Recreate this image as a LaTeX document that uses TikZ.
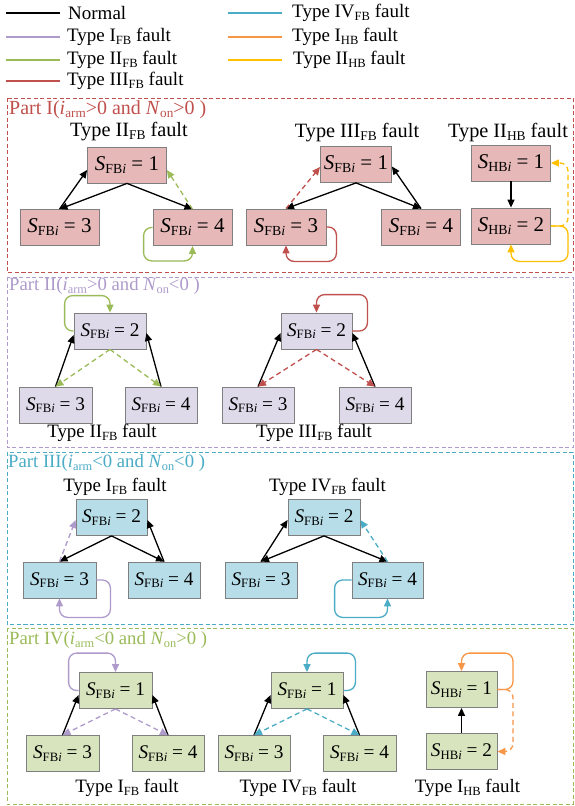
\documentclass[tikz,border=0pt]{standalone}
\usepackage{fontspec}
\setmainfont{Liberation Serif}
\usetikzlibrary{arrows.meta}
\definecolor{redc}{HTML}{C0504D}
\definecolor{purc}{HTML}{AE9BCB}
\definecolor{grnc}{HTML}{9BBB59}
\definecolor{cyac}{HTML}{4BACC6}
\definecolor{orac}{HTML}{F79646}
\definecolor{yelc}{HTML}{FFC000}
\definecolor{fillI}{HTML}{E6B9B8}
\definecolor{fillII}{HTML}{DFDAEA}
\definecolor{fillIII}{HTML}{B7DDE8}
\definecolor{fillIV}{HTML}{D7E4BD}
\definecolor{bordc}{HTML}{7F7F7F}
\makeatletter
\newcommand{\lo}[1]{{\@tempdima=\f@size pt\@tempdima=0.66\@tempdima
  \raisebox{-0.3ex}{\fontsize{\strip@pt\@tempdima}{10}\selectfont #1}}}
\makeatother
\newcommand{\sfb}[1]{\textit{S}\lo{FB\textit{i}} = #1}
\newcommand{\shb}[1]{\textit{S}\lo{HB\textit{i}} = #1}
\tikzset{
  stbox/.style={draw=bordc, line width=0.8pt, minimum height=36pt, inner sep=0pt,
    font=\fontsize{19.3}{22}\selectfont},
  sI/.style={stbox, fill=fillI, font=\fontsize{21}{24}\selectfont},
  sII/.style={stbox, fill=fillII},
  sIII/.style={stbox, fill=fillIII},
  sIV/.style={stbox, fill=fillIV},
  arr/.style={-{Triangle[length=8pt,width=7pt]}, line width=1.3pt},
  dsh/.style={dash pattern=on 5pt off 3.5pt},
  selfarc/.style={arr, rounded corners=8pt},
  partbox/.style={line width=1pt, dash pattern=on 4pt off 2.5pt},
  lbl/.style={font=\fontsize{18.9}{22}\selectfont, inner sep=0pt},
  lblA/.style={font=\fontsize{20.3}{23}\selectfont, inner sep=0pt},
  plbl/.style={font=\fontsize{18.7}{22}\selectfont, inner sep=0pt, anchor=west},
  plblA/.style={font=\fontsize{20}{23}\selectfont, inner sep=0pt, anchor=west},
  leg/.style={font=\fontsize{19}{22}\selectfont, inner sep=0pt, anchor=west},
  legline/.style={line width=1.6pt},
}
\begin{document}
\begin{tikzpicture}[x=1pt,y=-1pt]
\useasboundingbox (0,0) rectangle (575,806);
\fill[white] (0,0) rectangle (575,806);

% ---------- legend ----------
\draw[legline, black] (6,13) -- (60,13);
\node[leg] (l1) at (68,13) {Normal};
\draw[legline, purc] (6,37) -- (60,37);
\node[leg] (l2) at (67,37) {Type I\lo{FB} fault};
\draw[legline, grnc] (6,60) -- (60,60);
\node[leg] (l3) at (67,60) {Type II\lo{FB} fault};
\draw[legline, redc] (6,81) -- (60,81);
\node[leg] (l4) at (67,81) {Type III\lo{FB} fault};
\draw[legline, cyac] (228,13) -- (282,13);
\node[leg] (l5) at (292,13) {Type IV\lo{FB} fault};
\draw[legline, orac] (228,37) -- (282,37);
\node[leg] (l6) at (292,37) {Type I\lo{HB} fault};
\draw[legline, yelc] (228,60) -- (282,60);
\node[leg] (l7) at (293,60) {Type II\lo{HB} fault};

% ---------- part boxes ----------
\draw[partbox, draw=redc] (7,98) rectangle (573,272);
\draw[partbox, draw=purc] (7,277) rectangle (573,447);
\draw[partbox, draw=cyac] (7,452) rectangle (573,624);
\draw[partbox, draw=grnc] (7,628) rectangle (573,804);

\node[plblA, text=redc] (p1) at (9,110) {Part I(\textit{i}\lo{arm}>0 and \textit{N}\lo{on}>0 )};
\node[plbl, text=purc] (p2) at (9,286) {Part II(\textit{i}\lo{arm}>0 and \textit{N}\lo{on}<0 )};
\node[plbl, text=cyac] (p3) at (8,463) {Part III(\textit{i}\lo{arm}<0 and \textit{N}\lo{on}<0 )};
\node[plbl, text=grnc] (p4) at (9,640) {Part IV(\textit{i}\lo{arm}<0 and \textit{N}\lo{on}>0 )};

% ---------- Part I ----------
\node[lblA] (t1) at (129,132) {Type II\lo{FB} fault};
\node[sI, minimum width=79pt] (a1) at (127,165) {\sfb{1}};
\node[sI, minimum width=79pt] (a3) at (59.5,227.5) {\sfb{3}};
\node[sI, minimum width=79pt] (a4) at (192.5,227.5) {\sfb{4}};
\draw[arr] (a1.south) -- (a3.north);
\draw[arr] (a3.north) -- ([yshift=-5pt]a1.west);
\draw[arr] (a1.south) -- (a4.north);
\draw[arr, dsh, grnc] (a4.north) -- ([yshift=-5pt]a1.east);
\draw[selfarc, grnc] (a4.west) -- ([xshift=-9pt]a4.west) |- ([yshift=-15pt]a4.south) -- (a4.south);

\node[lblA] (t2) at (357,133) {Type III\lo{FB} fault};
\node[sI, minimum width=71pt] (b1) at (356,164.5) {\sfb{1}};
\node[sI, minimum width=80pt] (b3) at (286,227) {\sfb{3}};
\node[sI, minimum width=79pt] (b4) at (421,227) {\sfb{4}};
\draw[arr] (b1.south) -- (b3.north);
\draw[arr, dsh, redc] (b3.north) -- ([yshift=-2.5pt]b1.west);
\draw[arr] (b1.south) -- (b4.north);
\draw[arr] (b4.north) -- ([yshift=-2pt]b1.east);
\draw[selfarc, redc] (b3.east) -- ([xshift=10pt]b3.east) |- ([yshift=-16pt]b3.south) -- (b3.south);

\node[lblA] (t3) at (508,133) {Type II\lo{HB} fault};
\node[sI, minimum width=79pt] (c1) at (511,163) {\shb{1}};
\node[sI, minimum width=79pt] (c2) at (511,226) {\shb{2}};
\draw[arr] (c1.south) -- (c2.north);
\coordinate (cj) at (568,226);
\draw[selfarc, yelc] (c2.east) -- (cj) |- ([yshift=-17pt]c2.south) -- (c2.south);
\draw[selfarc, dsh, yelc] (c2.east) -- (cj) |- (c1.east);

% ---------- Part II ----------
\node[sII, minimum width=72pt] (d2) at (110,331) {\sfb{2}};
\node[sII, minimum width=73pt] (d3) at (55.5,405) {\sfb{3}};
\node[sII, minimum width=72pt] (d4) at (161,405) {\sfb{4}};
\draw[selfarc, grnc] (d2.west) -- ([xshift=-9pt]d2.west) |- ([yshift=17pt]d2.north) -- (d2.north);
\draw[arr] (d3.north) -- ([yshift=-4pt]d2.west);
\draw[arr] (d4.north) -- ([yshift=-2pt]d2.east);
\draw[arr, dsh, grnc] (d2.south) -- (d3.north);
\draw[arr, dsh, grnc] (d2.south) -- (d4.north);
\node[lbl] (t4) at (102,433) {Type II\lo{FB} fault};

\node[sII, minimum width=71pt] (e2) at (316.5,331) {\sfb{2}};
\node[sII, minimum width=72pt] (e3) at (258,405) {\sfb{3}};
\node[sII, minimum width=72pt] (e4) at (375,405) {\sfb{4}};
\draw[selfarc, redc] (e2.east) -- ([xshift=15pt]e2.east) |- ([yshift=18pt]e2.north) -- (e2.north);
\draw[arr] (e3.north) -- ([yshift=-2pt]e2.west);
\draw[arr] (e4.north) -- ([yshift=-2pt]e2.east);
\draw[arr, dsh, redc] (e2.south) -- (e3.north);
\draw[arr, dsh, redc] (e2.south) -- (e4.north);
\node[lbl] (t5) at (314,433) {Type III\lo{FB} fault};

% ---------- Part III ----------
\node[lbl] (t6) at (115,487) {Type I\lo{FB} fault};
\node[sIII, minimum width=71pt] (f2) at (111.5,517.5) {\sfb{2}};
\node[sIII, minimum width=73pt] (f3) at (59.5,580) {\sfb{3}};
\node[sIII, minimum width=72pt] (f4) at (164,580) {\sfb{4}};
\draw[arr] (f2.south) -- (f3.north);
\draw[arr] (f2.south) -- (f4.north);
\draw[arr] (f4.north) -- ([yshift=-2.5pt]f2.east);
\draw[arr, dsh, purc] (f3.north) -- ([yshift=-2.5pt]f2.west);
\draw[selfarc, purc] (f3.east) -- ([xshift=14pt]f3.east) |- ([yshift=-19pt]f3.south) -- (f3.south);

\node[lbl] (t7) at (327.5,487) {Type IV\lo{FB} fault};
\node[sIII, minimum width=72pt] (g2) at (324,517.5) {\sfb{2}};
\node[sIII, minimum width=72pt] (g3) at (261,580) {\sfb{3}};
\node[sIII, minimum width=71pt] (g4) at (387.5,580) {\sfb{4}};
\draw[arr] (g2.south) -- (g3.north);
\draw[arr] (g3.north) -- ([yshift=-2.5pt]g2.west);
\draw[arr] (g2.south) -- (g4.north);
\draw[arr, dsh, cyac] (g4.north) -- ([yshift=-2.5pt]g2.east);
\draw[selfarc, cyac] (g4.west) -- ([xshift=-17pt]g4.west) |- ([yshift=-19pt]g4.south) -- (g4.south);

% ---------- Part IV ----------
\node[sIV, minimum width=73pt] (h1) at (115.5,690.5) {\sfb{1}};
\node[sIV, minimum width=73pt] (h3) at (62.5,753.5) {\sfb{3}};
\node[sIV, minimum width=72pt] (h4) at (168,753.5) {\sfb{4}};
\draw[selfarc, purc] (h1.west) -- ([xshift=-10pt]h1.west) |- ([yshift=19pt]h1.north) -- (h1.north);
\draw[arr] (h3.north) -- ([yshift=-4.5pt]h1.west);
\draw[arr] (h4.north) -- ([yshift=-4.5pt]h1.east);
\draw[arr, dsh, purc] (h1.south) -- (h3.north);
\draw[arr, dsh, purc] (h1.south) -- (h4.north);
\node[lbl] (t8) at (127,788) {Type I\lo{FB} fault};

\node[sIV, minimum width=72pt] (k1) at (307,690.5) {\sfb{1}};
\node[sIV, minimum width=72pt] (k3) at (254,753.5) {\sfb{3}};
\node[sIV, minimum width=73pt] (k4) at (359.5,753.5) {\sfb{4}};
\draw[selfarc, cyac] (k1.east) -- ([xshift=12pt]k1.east) |- ([yshift=19pt]k1.north) -- (k1.north);
\draw[arr] (k3.north) -- ([yshift=-4.5pt]k1.west);
\draw[arr] (k4.north) -- ([yshift=-4.5pt]k1.east);
\draw[arr, dsh, cyac] (k1.south) -- (k3.north);
\draw[arr, dsh, cyac] (k1.south) -- (k4.north);
\node[lbl] (t9) at (298,788) {Type IV\lo{FB} fault};

\node[sIV, minimum width=71pt] (m1) at (461.5,689.5) {\shb{1}};
\node[sIV, minimum width=71pt] (m2) at (461.5,751.5) {\shb{2}};
\draw[arr] (m2.north) -- (m1.south);
\coordinate (mj) at (513,689.5);
\draw[selfarc, orac] (m1.east) -- (mj) |- ([yshift=18pt]m1.north) -- (m1.north);
\draw[selfarc, dsh, orac] (m1.east) -- (mj) |- (m2.east);
\node[lbl] (t10) at (467.5,788) {Type I\lo{HB} fault};
\end{tikzpicture}
\end{document}
